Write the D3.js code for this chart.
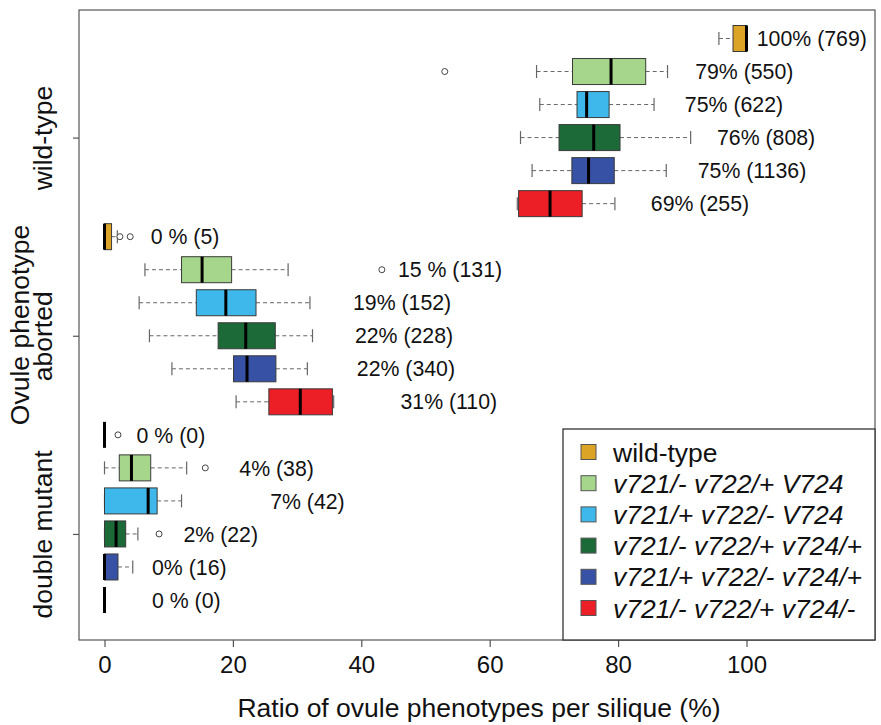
<!DOCTYPE html>
<html>
<head>
<meta charset="utf-8">
<script src="https://cdn.jsdelivr.net/npm/d3@7"></script>
<style>
  html, body { margin: 0; padding: 0; background: #fff; }
  svg { display: block; font-family: "Liberation Sans", Arial, Helvetica, sans-serif; }
</style>
</head>
<body>
<svg id="chart" width="881" height="725"></svg>
<script>
// ---------------- DATA ----------------
const phenotypes = ["wild-type", "aborted", "double mutant"];
const genotypes = ["wild-type", "v721/- v722/+ V724", "v721/+ v722/- V724",
                   "v721/- v722/+ v724/+", "v721/+ v722/- v724/+", "v721/- v722/+ v724/-"];
const genotypeItalic = [false, true, true, true, true, true];
const colors = ["#DBA427", "#A6D68B", "#3EB8EA", "#1B6A37", "#3751A5", "#EC1F26"];

// box statistics per genotype: [lower whisker, Q1, median, Q3, upper whisker] (%)
const statsWildType = [
  [95.7, 97.9, 100, 100, 100],
  [67.3, 72.9, 78.9, 84.3, 87.7],
  [67.8, 73.6, 75.1, 78.6, 85.6],
  [64.8, 70.8, 76.2, 80.3, 91.3],
  [66.6, 72.8, 75.4, 79.4, 87.5],
  [64.3, 64.5, 69.4, 74.4, 79.5]
];
const statsAborted = [
  [0, 0, 0, 1.1, 2.0],
  [6.3, 12.0, 15.2, 19.8, 28.6],
  [5.4, 14.3, 18.9, 23.6, 32.0],
  [7.0, 17.7, 22.0, 26.6, 32.4],
  [10.5, 20.1, 22.2, 26.7, 31.6],
  [20.5, 25.6, 30.5, 35.5, 35.7]
];
const statsDouble = [
  [0, 0, 0, 0, 0],
  [0, 2.3, 4.2, 7.2, 12.8],
  [0, 0, 6.8, 8.2, 12.0],
  [0, 0, 1.8, 3.3, 5.2],
  [0, 0, 0, 2.1, 4.4],
  [0, 0, 0, 0, 0]
];
const outliersWildType = [[], [53.0], [], [], [], []];
const outliersAborted = [[2.4, 4.0], [43.2], [], [], [], []];
const outliersDouble = [[2.1], [15.7], [], [8.5], [], []];

const labelsWildType = ["100% (769)", "79% (550)", "75% (622)", "76% (808)", "75% (1136)", "69% (255)"];
const labelsAborted = ["0 % (5)", "15 % (131)", "19% (152)", "22% (228)", "22% (340)", "31% (110)"];
const labelsDouble = ["0 % (0)", "4% (38)", "7% (42)", "2% (22)", "0% (16)", "0 % (0)"];
// where each annotation starts, in axis units (%)
const labelAtWildType = [101.6, 92.0, 90.4, 95.4, 92.4, 85.1];
const labelAtAborted = [7.2, 45.7, 38.7, 39.0, 39.3, 46.1];
const labelAtDouble = [5.0, 21.0, 25.8, 12.3, 7.4, 7.4];

const xTicks = [0, 20, 40, 60, 80, 100];
const xTitle = "Ratio of ovule phenotypes per silique (%)";
const yTitle = "Ovule phenotype";

// ---------------- BUILD ROWS ----------------
const groupStats = [statsWildType, statsAborted, statsDouble];
const groupOutliers = [outliersWildType, outliersAborted, outliersDouble];
const groupLabels = [labelsWildType, labelsAborted, labelsDouble];
const groupLabelAt = [labelAtWildType, labelAtAborted, labelAtDouble];
const rows = [];
phenotypes.forEach((p, gi) => {
  genotypes.forEach((g, k) => {
    const s = groupStats[gi][k];
    rows.push({
      index: gi * genotypes.length + k, phenotype: p, genotype: k,
      lo: s[0], q1: s[1], med: s[2], q3: s[3], hi: s[4],
      out: groupOutliers[gi][k], label: groupLabels[gi][k], labelAt: groupLabelAt[gi][k]
    });
  });
});

// ---------------- LAYOUT ----------------
const svg = d3.select("#chart");
const frame = {left: 79, right: 875, top: 10, bottom: 640};
const x = d3.scaleLinear().domain([0, 100]).range([104.5, 746.5]);
const y = d3.scaleLinear().domain([0, rows.length - 1]).range([38.5, 600]);
const boxH = 26;
const capH = 13;
const FONT = '"Liberation Sans", Arial, Helvetica, sans-serif';

// frame
svg.append("rect")
  .attr("x", frame.left).attr("y", frame.top)
  .attr("width", frame.right - frame.left).attr("height", frame.bottom - frame.top)
  .attr("fill", "none").attr("stroke", "#555").attr("stroke-width", 1.2);

// x axis
const xAxis = svg.append("g")
  .attr("transform", `translate(0,${frame.bottom})`)
  .call(d3.axisBottom(x).tickValues(xTicks).tickSize(7).tickPadding(9).tickFormat(d3.format("d")));
xAxis.select(".domain").remove();
xAxis.selectAll("line").attr("stroke", "#555").attr("stroke-width", 1.2);
xAxis.selectAll("text").attr("font-size", 24).attr("font-family", FONT).attr("fill", "#111");

// y axis (phenotype ticks at central rows)
const tickRows = phenotypes.map((p, gi) => gi * genotypes.length + 3);
const yAxis = svg.append("g")
  .attr("transform", `translate(${frame.left},0)`)
  .call(d3.axisLeft(y).tickValues(tickRows).tickSize(6).tickFormat((d, i) => phenotypes[i]));
yAxis.select(".domain").remove();
yAxis.selectAll("line").attr("stroke", "#555").attr("stroke-width", 1.2);
yAxis.selectAll("text")
  .attr("transform", "rotate(-90)")
  .attr("x", 0).attr("y", -27).attr("dy", 0)
  .attr("text-anchor", "middle")
  .attr("font-size", 26.5).attr("font-family", FONT).attr("fill", "#111");

// axis titles
svg.append("text")
  .attr("x", (frame.left + frame.right) / 2 + 2).attr("y", 717)
  .attr("text-anchor", "middle").attr("font-size", 26.5).attr("fill", "#111")
  .text(xTitle);
svg.append("text")
  .attr("transform", `translate(29,${(frame.top + frame.bottom) / 2}) rotate(-90)`)
  .attr("text-anchor", "middle").attr("font-size", 26.5).attr("fill", "#111")
  .text(yTitle);

// ---------------- BOXES ----------------
const g = svg.append("g");
const rowG = g.selectAll("g.row").data(rows).join("g").attr("class", "row");

// whiskers (dashed)
rowG.append("line")
  .attr("x1", d => x(d.lo)).attr("x2", d => x(d.q1))
  .attr("y1", d => y(d.index)).attr("y2", d => y(d.index))
  .attr("stroke", "#666").attr("stroke-width", 1).attr("stroke-dasharray", "4,3");
rowG.append("line")
  .attr("x1", d => x(d.q3)).attr("x2", d => x(d.hi))
  .attr("y1", d => y(d.index)).attr("y2", d => y(d.index))
  .attr("stroke", "#666").attr("stroke-width", 1).attr("stroke-dasharray", "4,3");
// caps
rowG.filter(d => d.hi > d.q3 || d.lo < d.q1 || d.q3 > d.q1).each(function(d) {
  const sel = d3.select(this);
  [d.lo, d.hi].forEach(v => {
    sel.append("line")
      .attr("x1", x(v)).attr("x2", x(v))
      .attr("y1", y(d.index) - capH / 2).attr("y2", y(d.index) + capH / 2)
      .attr("stroke", "#666").attr("stroke-width", 1.2);
  });
});
// box
rowG.append("rect")
  .attr("x", d => x(d.q1)).attr("width", d => x(d.q3) - x(d.q1))
  .attr("y", d => y(d.index) - boxH / 2).attr("height", boxH)
  .attr("fill", d => colors[d.genotype])
  .attr("stroke", "#3a3a3a").attr("stroke-width", 1);
// median
rowG.append("line")
  .attr("x1", d => x(d.med)).attr("x2", d => x(d.med))
  .attr("y1", d => y(d.index) - boxH / 2).attr("y2", d => y(d.index) + boxH / 2)
  .attr("stroke", "#000").attr("stroke-width", 3);
// outliers
rowG.selectAll("circle").data(d => d.out.map(v => ({v, i: d.index}))).join("circle")
  .attr("cx", d => x(d.v)).attr("cy", d => y(d.i)).attr("r", 3)
  .attr("fill", "#fff").attr("stroke", "#444").attr("stroke-width", 1);
// annotations
rowG.append("text")
  .attr("x", d => x(d.labelAt)).attr("y", d => y(d.index)).attr("dy", "0.36em")
  .attr("font-size", 21.3).attr("fill", "#111")
  .text(d => d.label);

// ---------------- LEGEND ----------------
const legend = svg.append("g");
legend.append("rect")
  .attr("x", 563).attr("y", 429).attr("width", 312).attr("height", 211)
  .attr("fill", "#fff").attr("stroke", "#333").attr("stroke-width", 1.3);
const ly = d3.scalePoint().domain(d3.range(genotypes.length)).range([452, 608]);
const items = legend.selectAll("g.item").data(genotypes).join("g").attr("class", "item")
  .attr("transform", (d, i) => `translate(581,${ly(i)})`);
items.append("rect")
  .attr("x", 0).attr("y", -7.5).attr("width", 15).attr("height", 15)
  .attr("fill", (d, i) => colors[i]).attr("stroke", "#555").attr("stroke-width", 1);
items.append("text")
  .attr("x", 32).attr("y", 0).attr("dy", "0.36em")
  .attr("font-size", 26.5).attr("fill", "#111")
  .attr("font-style", (d, i) => genotypeItalic[i] ? "italic" : "normal")
  .text(d => d);
</script>
</body>
</html>
